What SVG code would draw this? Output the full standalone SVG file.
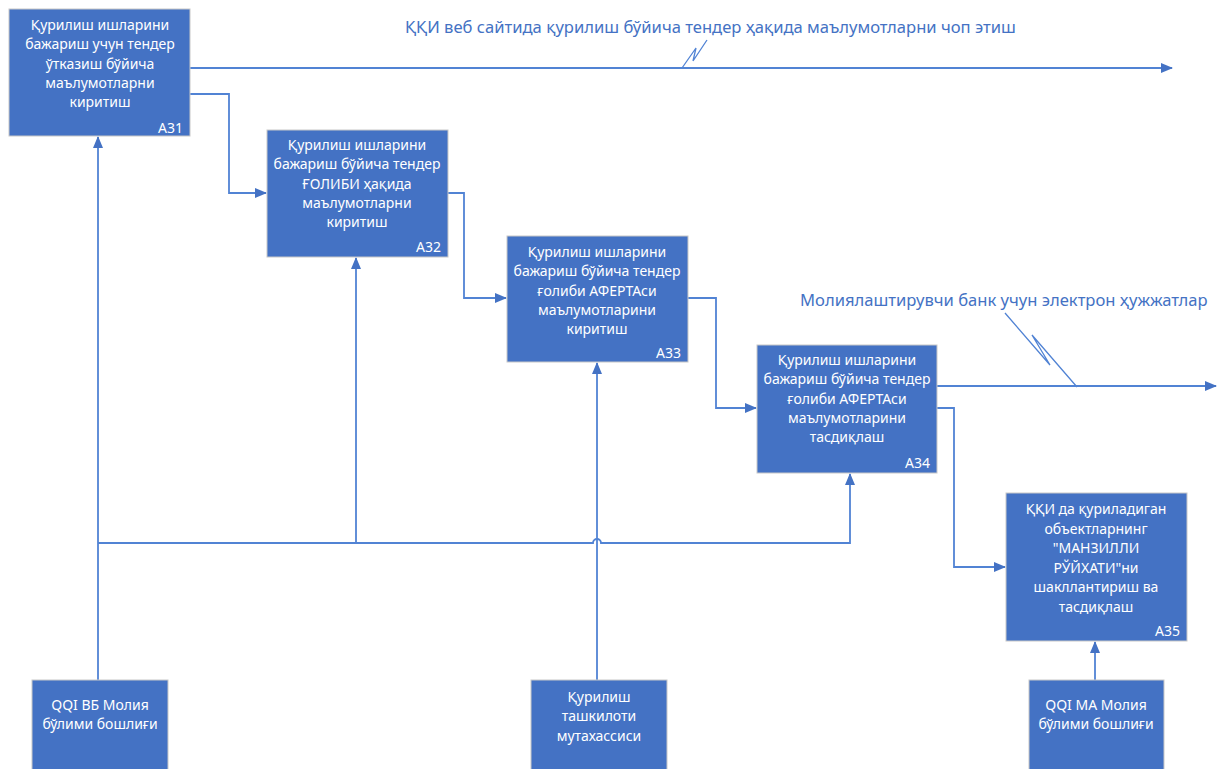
<svg xmlns="http://www.w3.org/2000/svg" width="1225" height="769" viewBox="0 0 1225 769">
<style>
.box{fill:#4472C4;stroke:#C8C8C8;stroke-width:1}
.t{font-family:"Noto Sans","Liberation Sans",sans-serif;font-size:14px;fill:#FFFFFF;text-anchor:middle}
.id{font-family:"Noto Sans","Liberation Sans",sans-serif;font-size:14px;fill:#FFFFFF;text-anchor:end}
.lbl{font-family:"Noto Sans","Liberation Sans",sans-serif;font-size:16.6px;fill:#4472C4}
.c{fill:none;stroke:#5183D4;stroke-width:1.8}
.s{fill:none;stroke:#5183D4;stroke-width:1.3}
</style>
<defs>
<marker id="ah" markerUnits="userSpaceOnUse" markerWidth="12" markerHeight="12" viewBox="0 0 12 12" refX="11" refY="6" orient="auto">
<path d="M0,1 L12,6 L0,11 Z" fill="#4472C4"/>
</marker>
</defs>
<rect width="1225" height="769" fill="#FFFFFF"/>

<g id="connectors">
<path class="c" d="M190,68 H1172" marker-end="url(#ah)"/>
<path class="c" d="M190,94 H229 V193 H266" marker-end="url(#ah)"/>
<path class="c" d="M448,193 H464 V298 H506" marker-end="url(#ah)"/>
<path class="c" d="M688,298 H716 V408 H756" marker-end="url(#ah)"/>
<path class="c" d="M937,386 H1216" marker-end="url(#ah)"/>
<path class="c" d="M937,408 H954 V567 H1005" marker-end="url(#ah)"/>
<path class="c" d="M98,680 V137" marker-end="url(#ah)"/>
<path class="c" d="M98,543 H593 A4,4 0 0 1 601,543 H850 V474" marker-end="url(#ah)"/>
<path class="c" d="M356,543 V258" marker-end="url(#ah)"/>
<path class="c" d="M597,680 V363" marker-end="url(#ah)"/>
<path class="c" d="M1095,680 V642" marker-end="url(#ah)"/>
<path class="s" d="M682,68 L696,48 L693,61 L707,40"/>
<path class="s" d="M1005,313 L1050,365 L1032,335 L1077,387"/>
</g>

<g id="label-top"><text class="lbl" x="405" y="33">ҚҚИ веб сайтида қурилиш бўйича тендер ҳақида маълумотларни чоп этиш</text></g>
<g id="label-right"><text class="lbl" x="800" y="306">Молиялаштирувчи банк учун электрон ҳужжатлар</text></g>

<g id="A31">
<rect class="box" x="9" y="9" width="181" height="127"/>
<text class="t" x="100" y="30"><tspan x="100">Қурилиш ишларини</tspan><tspan x="100" dy="19.3">бажариш учун тендер</tspan><tspan x="100" dy="19.3">ўтказиш бўйича</tspan><tspan x="100" dy="19.3">маълумотларни</tspan><tspan x="100" dy="19.3">киритиш</tspan></text>
<text class="id" x="183" y="133">A31</text>
</g>

<g id="A32">
<rect class="box" x="267" y="130" width="181" height="127"/>
<text class="t" x="357" y="150"><tspan x="357">Қурилиш ишларини</tspan><tspan x="357" dy="19.3">бажариш бўйича тендер</tspan><tspan x="357" dy="19.3">ҒОЛИБИ ҳақида</tspan><tspan x="357" dy="19.3">маълумотларни</tspan><tspan x="357" dy="19.3">киритиш</tspan></text>
<text class="id" x="441" y="252">A32</text>
</g>

<g id="A33">
<rect class="box" x="507" y="236" width="181" height="126"/>
<text class="t" x="597" y="257"><tspan x="597">Қурилиш ишларини</tspan><tspan x="597" dy="19.3">бажариш бўйича тендер</tspan><tspan x="597" dy="19.3">ғолиби АФЕРТАси</tspan><tspan x="597" dy="19.3">маълумотларини</tspan><tspan x="597" dy="19.3">киритиш</tspan></text>
<text class="id" x="681" y="358">A33</text>
</g>

<g id="A34">
<rect class="box" x="757" y="345" width="180" height="128"/>
<text class="t" x="847" y="365"><tspan x="847">Қурилиш ишларини</tspan><tspan x="847" dy="19.3">бажариш бўйича тендер</tspan><tspan x="847" dy="19.3">ғолиби АФЕРТАси</tspan><tspan x="847" dy="19.3">маълумотларини</tspan><tspan x="847" dy="19.3">тасдиқлаш</tspan></text>
<text class="id" x="930" y="468">A34</text>
</g>

<g id="A35">
<rect class="box" x="1006" y="493" width="181" height="148"/>
<text class="t" x="1096" y="514"><tspan x="1096">ҚҚИ да қуриладиган</tspan><tspan x="1096" dy="19.5">объектларнинг</tspan><tspan x="1096" dy="19.5">"МАНЗИЛЛИ</tspan><tspan x="1096" dy="19.5">РЎЙХАТИ"ни</tspan><tspan x="1096" dy="19.5">шакллантириш ва</tspan><tspan x="1096" dy="19.5">тасдиқлаш</tspan></text>
<text class="id" x="1180" y="636">A35</text>
</g>

<g id="M1">
<rect class="box" x="32" y="680" width="136" height="95"/>
<text class="t" x="100" y="710"><tspan x="100">QQI ВБ Молия</tspan><tspan x="100" dy="19.3">бўлими бошлиғи</tspan></text>
</g>

<g id="M2">
<rect class="box" x="531" y="680" width="136" height="95"/>
<text class="t" x="599" y="702"><tspan x="599">Қурилиш</tspan><tspan x="599" dy="19.3">ташкилоти</tspan><tspan x="599" dy="19.3">мутахассиси</tspan></text>
</g>

<g id="M3">
<rect class="box" x="1029" y="680" width="135" height="95"/>
<text class="t" x="1096" y="710"><tspan x="1096">QQI МА Молия</tspan><tspan x="1096" dy="19.3">бўлими бошлиғи</tspan></text>
</g>
</svg>
